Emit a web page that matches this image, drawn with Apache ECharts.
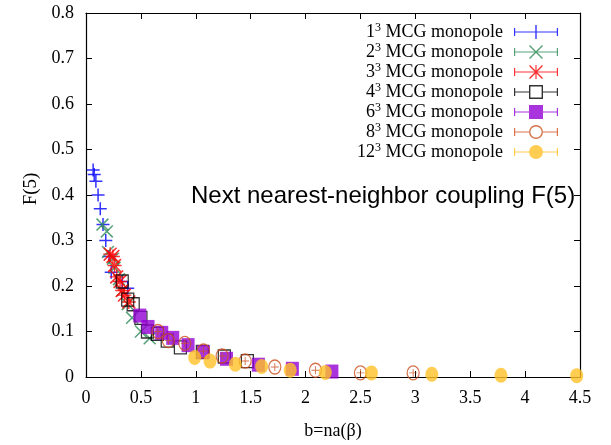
<!DOCTYPE html>
<html>
<head>
<meta charset="utf-8">
<script src="https://cdn.jsdelivr.net/npm/echarts@6/dist/echarts.min.js"></script>
<style>
  html, body { margin: 0; padding: 0; background: #fff; }
  #chart { width: 611px; height: 445px; }
</style>
</head>
<body>
<div id="chart"></div>
<script>
// data: [b, F(5)]
const mcg1 = [[0.065, 0.455], [0.075, 0.445], [0.09, 0.43], [0.11, 0.40], [0.13, 0.37], [0.155, 0.335],
  [0.18, 0.30], [0.21, 0.265], [0.23, 0.23], [0.33, 0.21], [0.38, 0.195]]
const mcg2 = [[0.15, 0.335], [0.19, 0.32], [0.2, 0.275], [0.245, 0.26], [0.26, 0.24], [0.3, 0.215],
  [0.33, 0.19], [0.38, 0.16], [0.42, 0.13], [0.5, 0.1], [0.58, 0.085]]
const mcg3 = [[0.22, 0.27], [0.245, 0.265], [0.26, 0.245], [0.28, 0.22], [0.31, 0.21], [0.33, 0.19],
  [0.35, 0.18], [0.39, 0.165]]
const mcg4 = [[0.33, 0.21], [0.38, 0.17], [0.43, 0.16], [0.5, 0.13], [0.56, 0.1], [0.65, 0.095],
  [0.74, 0.08], [0.86, 0.065], [1.06, 0.055], [1.26, 0.045], [1.47, 0.035]]
const mcg6 = [[0.49, 0.135], [0.565, 0.11], [0.69, 0.097], [0.79, 0.086], [0.93, 0.07], [1.07, 0.055],
  [1.28, 0.04], [1.57, 0.027], [1.88, 0.018], [2.24, 0.012]]
const mcg8 = [[0.655, 0.1], [0.75, 0.08], [0.9, 0.074], [1.07, 0.057], [1.24, 0.046], [1.45, 0.035],
  [1.72, 0.022], [2.09, 0.015], [2.5, 0.009], [2.98, 0.009]]
const mcg12 = [[0.99, 0.043], [1.13, 0.035], [1.36, 0.028], [1.6, 0.023], [1.86, 0.015], [2.18, 0.01],
  [2.6, 0.009], [3.15, 0.006], [3.78, 0.004], [4.47, 0.003]]

const sizes = ['1', '2', '3', '4', '6', '8', '12']
const names = sizes.map(n => n + '³ MCG monopole')

const serif = 'Liberation Serif'

// marker shapes
const plusSym = 'path://M0 5.3H12V6.7H0Z M5.3 0H6.7V12H5.3Z'
const crossSym = 'path://M0 1L1 0L12 11L11 12Z M11 0L12 1L1 12L0 11Z'
const starSym = 'path://M0 5.4H12V6.6H0Z M5.4 0H6.6V12H5.4Z M0 1L1 0L12 11L11 12Z M11 0L12 1L1 12L0 11Z'

// legend icons: 44x14, error bar line plus marker
const bar = 'M0 6.4H44V7.6H0Z M0 3H1.2V11H0Z M42.8 3H44V11H42.8Z'
const barSplit = 'M0 6.4H15V7.6H0Z M29 6.4H44V7.6H29Z M0 3H1.2V11H0Z M42.8 3H44V11H42.8Z'
const icons = [
  'path://' + bar + ' M21.3 0H22.7V14H21.3Z',
  'path://' + bar + ' M15 1L16 0L29 13L28 14Z M28 0L29 1L16 14L15 13Z',
  'path://' + bar + ' M21.4 0H22.6V14H21.4Z M15 1L16 0L29 13L28 14Z M28 0L29 1L16 14L15 13Z',
  'path://' + barSplit + ' M15 0H29V14H15Z M16.4 1.4V12.6H27.6V1.4Z',
  'path://' + bar + ' M15 0H29V14H15Z',
  'path://' + barSplit + ' M22 0A7 7 0 1 1 22 14A7 7 0 1 1 22 0Z M22 1.4A5.6 5.6 0 1 0 22 12.6A5.6 5.6 0 1 0 22 1.4Z',
  'path://' + bar + ' M22 0A7 7 0 1 1 22 14A7 7 0 1 1 22 0Z'
]
const colors = ['#0000ff', '#2e8b57', '#ff0000', '#000000', '#9400d3', '#cc5020', '#ffc125']

let myChart = echarts.init(document.getElementById('chart'))

const tickStyle = { inside: true, length: 6, lineStyle: { color: '#000' } }
const lineStyle = { show: true, onZero: false, lineStyle: { color: '#000', width: 1.2 } }

let opt = {
  animation: false,
  grid: { left: 86, right: 31, top: 13, bottom: 66 },
  legend: {
    orient: 'vertical',
    align: 'right',
    right: 48,
    top: 17,
    itemWidth: 44,
    itemHeight: 14,
    itemGap: 1,
    selectedMode: false,
    data: names.map((n, i) => ({ name: n, icon: icons[i], itemStyle: { color: colors[i], borderWidth: 0 } })),
    formatter: name => {
      const p = name.split('³')
      return '{b|' + p[0] + '}{s|3}{b|' + p[1] + '}'
    },
    textStyle: {
      padding: [0, 6, 0, 0],
      rich: {
        b: { fontFamily: serif, fontSize: 18, lineHeight: 20, color: '#000' },
        s: { fontFamily: serif, fontSize: 12, lineHeight: 20, verticalAlign: 'top', color: '#000' }
      }
    }
  },
  graphic: [{
    type: 'text',
    left: 191,
    top: 184,
    style: { text: 'Next nearest-neighbor coupling F(5)', font: '24px "Liberation Sans"', fill: '#000' }
  }],
  xAxis: [{
    type: 'value', min: 0, max: 4.5, interval: 0.5,
    name: 'b=na(β)', nameLocation: 'middle', nameGap: 45,
    nameTextStyle: { fontFamily: serif, fontSize: 18, color: '#000' },
    axisLine: lineStyle, axisTick: tickStyle, splitLine: { show: false },
    axisLabel: { fontFamily: serif, fontSize: 18, color: '#000', margin: 12 }
  }, {
    type: 'value', position: 'top', min: 0, max: 4.5, interval: 0.5,
    axisLine: lineStyle, axisTick: tickStyle, splitLine: { show: false }, axisLabel: { show: false }
  }],
  yAxis: [{
    type: 'value', min: 0, max: 0.8, interval: 0.1,
    name: 'F(5)', nameLocation: 'middle', nameGap: 38, nameRotate: 90,
    nameTextStyle: { fontFamily: serif, fontSize: 19, color: '#000', padding: [0, 0, 0, 12] },
    axisLine: lineStyle, axisTick: tickStyle, splitLine: { show: false },
    axisLabel: { fontFamily: serif, fontSize: 18, color: '#000', margin: 12 }
  }, {
    type: 'value', position: 'right', min: 0, max: 0.8, interval: 0.1,
    axisLine: lineStyle, axisTick: tickStyle, splitLine: { show: false }, axisLabel: { show: false }
  }],
  series: [
    { name: names[0], type: 'scatter', data: mcg1, symbol: plusSym, symbolSize: 13, itemStyle: { color: colors[0] } },
    { name: names[1], type: 'scatter', data: mcg2, symbol: crossSym, symbolSize: 13, itemStyle: { color: colors[1] } },
    { name: names[2], type: 'scatter', data: mcg3, symbol: starSym, symbolSize: 14, itemStyle: { color: colors[2] } },
    { name: names[3], type: 'scatter', data: mcg4, symbol: 'rect', symbolSize: [12, 13],
      itemStyle: { color: 'rgba(0,0,0,0)', borderColor: colors[3], borderWidth: 1.3 } },
    { name: names[4], type: 'scatter', data: mcg6, symbol: 'rect', symbolSize: [13, 14], itemStyle: { color: colors[4] } },
    { name: names[5], type: 'scatter', data: mcg8, symbol: 'circle', symbolSize: [12, 14],
      itemStyle: { color: 'rgba(0,0,0,0)', borderColor: colors[5], borderWidth: 1.3 } },
    { name: 'err8', type: 'scatter', data: mcg8, symbol: plusSym, symbolSize: 8, silent: true, itemStyle: { color: colors[5] } },
    { name: names[6], type: 'scatter', data: mcg12, symbol: 'circle', symbolSize: [13, 15], itemStyle: { color: colors[6] } }
  ]
}

myChart.setOption(opt)
</script>
</body>
</html>
